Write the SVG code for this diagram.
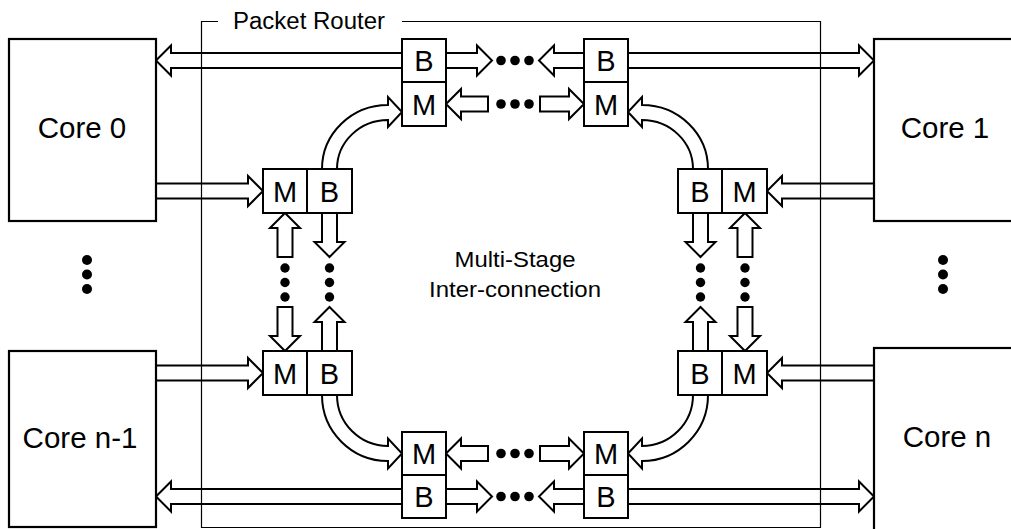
<svg xmlns="http://www.w3.org/2000/svg" width="1011" height="529" viewBox="0 0 1011 529">
<style>
.core{fill:#fff;stroke:#000;stroke-width:2.2}
.box{fill:#fff;stroke:#000;stroke-width:2}
.arr{fill:#fff;stroke:#000;stroke-width:2;stroke-linejoin:miter}
.dot{fill:#000}
.lbl{font-family:"Liberation Sans",Arial,sans-serif;fill:#000;text-anchor:middle}
.cl{font-size:29.5px}
.bl{font-size:29px}
</style>
<rect width="1011" height="529" fill="#fff"/>
<g id="connectors">
<!-- top B row -->
<path class="arr" d="M156,60.5 L171,45.5 L171,53 L402,53 L402,68 L171,68 L171,75.5 Z"/>
<path class="arr" d="M446,53 L477,53 L477,45.5 L492,60.5 L477,75.5 L477,68 L446,68 Z"/>
<path class="arr" d="M584,53 L554,53 L554,45.5 L539,60.5 L554,75.5 L554,68 L584,68 Z"/>
<path class="arr" d="M628,53 L859,53 L859,45.5 L874,60.5 L859,75.5 L859,68 L628,68 Z"/>
<!-- top M row -->
<path class="arr" d="M446,104 L461,89 L461,96.5 L488,96.5 L488,111.5 L461,111.5 L461,119 Z"/>
<path class="arr" d="M540,96.5 L569,96.5 L569,89 L584,104 L569,119 L569,111.5 L540,111.5 Z"/>
<!-- bottom M row -->
<path class="arr" d="M446,453.5 L461,438.5 L461,446 L488,446 L488,461 L461,461 L461,468.5 Z"/>
<path class="arr" d="M540,446 L569,446 L569,438.5 L584,453.5 L569,468.5 L569,461 L540,461 Z"/>
<!-- bottom B row -->
<path class="arr" d="M156,496.5 L171,481.5 L171,489 L402,489 L402,504 L171,504 L171,511.5 Z"/>
<path class="arr" d="M446,489 L477,489 L477,481.5 L492,496.5 L477,511.5 L477,504 L446,504 Z"/>
<path class="arr" d="M584,489 L554,489 L554,481.5 L539,496.5 L554,511.5 L554,504 L584,504 Z"/>
<path class="arr" d="M628,489 L859,489 L859,481.5 L874,496.5 L859,511.5 L859,504 L628,504 Z"/>
<!-- cores to M -->
<path class="arr" d="M156,183.5 L248,183.5 L248,176 L263,191 L248,206 L248,198.5 L156,198.5 Z"/>
<path class="arr" d="M874,183.5 L782,183.5 L782,176 L767,191 L782,206 L782,198.5 L874,198.5 Z"/>
<path class="arr" d="M156,365.5 L248,365.5 L248,358 L263,373 L248,388 L248,380.5 L156,380.5 Z"/>
<path class="arr" d="M874,365.5 L782,365.5 L782,358 L767,373 L782,388 L782,380.5 L874,380.5 Z"/>
<!-- curved arrows -->
<path class="arr" d="M322,169 A66,64 0 0 1 388,105 L388,97 L402,112 L388,127 L388,120 A51,49 0 0 0 337,169 Z"/>
<path class="arr" d="M708,169 A66,64 0 0 0 642,105 L642,97 L628,112 L642,127 L642,120 A51,49 0 0 1 693,169 Z"/>
<path class="arr" d="M322,395 A66,66 0 0 0 388,461 L388,468.5 L402,453.5 L388,438.5 L388,446 A51,51 0 0 1 337,395 Z"/>
<path class="arr" d="M708,395 A66,66 0 0 1 642,461 L642,468.5 L628,453.5 L642,438.5 L642,446 A51,51 0 0 0 693,395 Z"/>
<!-- vertical arrows left -->
<path class="arr" d="M285,213 L300,228 L292.5,228 L292.5,257 L277.5,257 L277.5,228 L270,228 Z"/>
<path class="arr" d="M322,213 L322,242 L314.5,242 L329.5,257 L344.5,242 L337,242 L337,213 Z"/>
<path class="arr" d="M277.5,307 L292.5,307 L292.5,336 L300,336 L285,351 L270,336 L277.5,336 Z"/>
<path class="arr" d="M329.5,307 L344.5,322 L337,322 L337,351 L322,351 L322,322 L314.5,322 Z"/>
<!-- vertical arrows right -->
<path class="arr" d="M745,213 L760,228 L752.5,228 L752.5,257 L737.5,257 L737.5,228 L730,228 Z"/>
<path class="arr" d="M693,213 L693,242 L685.5,242 L700.5,257 L715.5,242 L708,242 L708,213 Z"/>
<path class="arr" d="M737.5,307 L752.5,307 L752.5,336 L760,336 L745,351 L730,336 L737.5,336 Z"/>
<path class="arr" d="M700.5,307 L715.5,322 L708,322 L708,351 L693,351 L693,322 L685.5,322 Z"/>
<!-- dots -->
<g class="dot">
<circle cx="501" cy="60.5" r="4.8"/><circle cx="515" cy="60.5" r="4.8"/><circle cx="529" cy="60.5" r="4.8"/>
<circle cx="501" cy="104" r="4.8"/><circle cx="515" cy="104" r="4.8"/><circle cx="529" cy="104" r="4.8"/>
<circle cx="501" cy="453.5" r="4.8"/><circle cx="515" cy="453.5" r="4.8"/><circle cx="529" cy="453.5" r="4.8"/>
<circle cx="501" cy="496.5" r="4.8"/><circle cx="515" cy="496.5" r="4.8"/><circle cx="529" cy="496.5" r="4.8"/>
<circle cx="285" cy="268" r="4.7"/><circle cx="285" cy="282.5" r="4.7"/><circle cx="285" cy="297" r="4.7"/>
<circle cx="329.5" cy="268" r="4.7"/><circle cx="329.5" cy="282.5" r="4.7"/><circle cx="329.5" cy="297" r="4.7"/>
<circle cx="700.5" cy="268" r="4.7"/><circle cx="700.5" cy="282.5" r="4.7"/><circle cx="700.5" cy="297" r="4.7"/>
<circle cx="745" cy="268" r="4.7"/><circle cx="745" cy="282.5" r="4.7"/><circle cx="745" cy="297" r="4.7"/>
<circle cx="87" cy="260" r="5"/><circle cx="87" cy="274.5" r="5"/><circle cx="87" cy="289" r="5"/>
<circle cx="943" cy="260" r="5"/><circle cx="943" cy="274.5" r="5"/><circle cx="943" cy="289" r="5"/>
</g>
</g>
<g id="router">
<path d="M218,21.5 H201.5 V527.5 H820.5 V21.5 H402" fill="none" stroke="#000" stroke-width="1.2"/>
<text class="lbl" x="233" y="28.5" style="text-anchor:start;font-size:23px" textLength="152" lengthAdjust="spacingAndGlyphs">Packet Router</text>
<text class="lbl" x="515" y="267" style="font-size:22px" textLength="121" lengthAdjust="spacingAndGlyphs">Multi-Stage</text>
<text class="lbl" x="515" y="297" style="font-size:22px" textLength="172" lengthAdjust="spacingAndGlyphs">Inter-connection</text>
</g>
<g id="core0"><rect class="core" x="9" y="39" width="147" height="182"/><text class="lbl cl" x="82" y="138">Core 0</text></g>
<g id="core1"><rect class="core" x="874" y="39" width="145" height="182"/><text class="lbl cl" x="945" y="138">Core 1</text></g>
<g id="coren1"><rect class="core" x="9" y="351" width="147" height="176"/><text class="lbl cl" x="80" y="448">Core n-1</text></g>
<g id="coren"><rect class="core" x="874" y="348" width="145" height="190"/><text class="lbl cl" x="947" y="447">Core n</text></g>
<g id="b_top_l"><rect class="box" x="402" y="39" width="44" height="43"/><text class="lbl bl" x="424" y="71">B</text></g>
<g id="m_top_l"><rect class="box" x="402" y="82" width="44" height="44"/><text class="lbl bl" x="424" y="114.5">M</text></g>
<g id="b_top_r"><rect class="box" x="584" y="39" width="44" height="43"/><text class="lbl bl" x="606" y="71">B</text></g>
<g id="m_top_r"><rect class="box" x="584" y="82" width="44" height="44"/><text class="lbl bl" x="606" y="114.5">M</text></g>
<g id="m_bot_l"><rect class="box" x="402" y="432" width="44" height="43"/><text class="lbl bl" x="424" y="464">M</text></g>
<g id="b_bot_l"><rect class="box" x="402" y="475" width="44" height="43"/><text class="lbl bl" x="424" y="507">B</text></g>
<g id="m_bot_r"><rect class="box" x="584" y="432" width="44" height="43"/><text class="lbl bl" x="606" y="464">M</text></g>
<g id="b_bot_r"><rect class="box" x="584" y="475" width="44" height="43"/><text class="lbl bl" x="606" y="507">B</text></g>
<g id="m_ul"><rect class="box" x="263" y="169" width="44" height="44"/><text class="lbl bl" x="285" y="201.5">M</text></g>
<g id="b_ul"><rect class="box" x="307" y="169" width="45" height="44"/><text class="lbl bl" x="329.5" y="201.5">B</text></g>
<g id="m_ll"><rect class="box" x="263" y="351" width="44" height="44"/><text class="lbl bl" x="285" y="383.5">M</text></g>
<g id="b_ll"><rect class="box" x="307" y="351" width="45" height="44"/><text class="lbl bl" x="329.5" y="383.5">B</text></g>
<g id="b_ur"><rect class="box" x="678" y="169" width="44" height="44"/><text class="lbl bl" x="700" y="201.5">B</text></g>
<g id="m_ur"><rect class="box" x="722" y="169" width="45" height="44"/><text class="lbl bl" x="744.5" y="201.5">M</text></g>
<g id="b_lr"><rect class="box" x="678" y="351" width="44" height="44"/><text class="lbl bl" x="700" y="383.5">B</text></g>
<g id="m_lr"><rect class="box" x="722" y="351" width="45" height="44"/><text class="lbl bl" x="744.5" y="383.5">M</text></g>
</svg>
